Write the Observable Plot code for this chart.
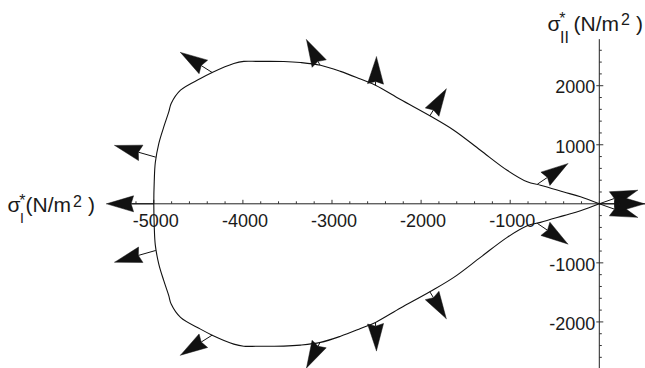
<!DOCTYPE html>
<html><head><meta charset="utf-8">
<script src="https://cdn.jsdelivr.net/npm/d3@7"></script>
<script src="https://cdn.jsdelivr.net/npm/@observablehq/plot@0.6"></script>
<style>body{margin:0;background:#fff}</style>
</head><body><div id="chart"></div>
<script>
// Upper half of the failure curve (sigma_I*, sigma_II*), from origin leftwards; lower half is its mirror
const curveX = [0, -211, -398, -660, -809, -1034, -1334, -1633, -1902, -2231, -2512, -2680, -2904, -3129, -3354, -3541, -3840, -3990, -4102, -4345, -4476, -4700, -4805, -4832, -4888, -4944, -4983, -4995, -5000];
const curveY = [0, 118, 200, 314, 372, 568, 907, 1246, 1490, 1765, 2008, 2112, 2243, 2347, 2393, 2410, 2412, 2412, 2376, 2224, 2122, 1924, 1698, 1556, 1302, 1020, 700, 380, 0];

// Normal arrows on the upper half (mirrored for the lower half): base point and vector
const arrowX  = [-4978, -4345, -3135, -2512, -1902, -697, 0];
const arrowY  = [790, 2224, 2350, 2008, 1490, 330, 0];
const arrowDX = [-460, -355, -151, 11, 184, 343, 429];
const arrowDY = [198, 339, 429, 480, 453, 350, 229];
// Arrows lying on the sigma_I axis
const axisArrowX  = [-5000, 0];
const axisArrowDX = [-530, 507];

const xMajor = [-5000, -4000, -3000, -2000, -1000];
const xMajorLabels = ["-5000", "-4000", "-3000", "-2000", "-1000"];
const yMajor = [2000, 1000, -1000, -2000];
const yMajorLabels = ["2000", "1000", "-1000", "-2000"];
const xMinor = d3.range(-5200, 401, 200).filter(v => !xMajor.includes(v));
const yMinor = d3.range(-2600, 2601, 200).filter(v => !yMajor.includes(v) && v !== 0);

const W = 645, H = 368;
const xDomain = [-6720.5, 518.5];
const yDomain = [-2789, 3443];
const sx = Plot.scale({x: {domain: xDomain, range: [0, W]}});
const sy = Plot.scale({y: {domain: yDomain, range: [H, 0]}});

// closed curve
const curve = [];
curveX.forEach((x, i) => curve.push({x, y: curveY[i]}));
for (let i = curveX.length - 2; i >= 0; i--) curve.push({x: curveX[i], y: -curveY[i]});

// arrows
const arrows = [];
arrowX.forEach((x, i) => {
  arrows.push({bx: x, by: arrowY[i], dx: arrowDX[i], dy: arrowDY[i]});
  arrows.push({bx: x, by: -arrowY[i], dx: arrowDX[i], dy: -arrowDY[i]});
});
axisArrowX.forEach((x, i) => arrows.push({bx: x, by: 0, dx: axisArrowDX[i], dy: 0}));

const HEAD = 27, HW = 8, NOTCH = 2.5;
const heads = [], shafts = [];
arrows.forEach((a, k) => {
  const P = [sx.apply(a.bx), sy.apply(a.by)];
  const T = [sx.apply(a.bx + a.dx), sy.apply(a.by + a.dy)];
  const L = Math.hypot(T[0] - P[0], T[1] - P[1]);
  const u = [(T[0] - P[0]) / L, (T[1] - P[1]) / L];
  const n = [-u[1], u[0]];
  const B = [T[0] - u[0] * HEAD, T[1] - u[1] * HEAD];
  const pts = [
    T,
    [B[0] + n[0] * HW, B[1] + n[1] * HW],
    [B[0] + u[0] * NOTCH, B[1] + u[1] * NOTCH],
    [B[0] - n[0] * HW, B[1] - n[1] * HW],
    T
  ];
  pts.forEach(p => heads.push({id: k, x: sx.invert(p[0]), y: sy.invert(p[1])}));
  shafts.push({x1: a.bx, y1: a.by, x2: sx.invert(B[0] + u[0] * NOTCH), y2: sy.invert(B[1] + u[1] * NOTCH)});
});

// tick geometry (pixel lengths converted through the scales)
const upBy = px => sy.invert(sy.apply(0) - px);
const rightBy = px => sx.invert(sx.apply(0) + px);
const xTicks = [
  ...xMajor.map(v => ({x1: v, x2: v, y1: 0, y2: upBy(4)})),
  ...xMinor.map(v => ({x1: v, x2: v, y1: 0, y2: upBy(2.5)}))
];
const yTicks = [
  ...yMajor.map(v => ({y1: v, y2: v, x1: rightBy(-3), x2: rightBy(4)})),
  ...yMinor.map(v => ({y1: v, y2: v, x1: 0, x2: rightBy(2.5)}))
];

const font = "'Liberation Sans', Arial, Helvetica, sans-serif";
const plot = Plot.plot({
  width: W, height: H, margin: 0,
  style: {fontFamily: font, background: "#fff", overflow: "visible"},
  x: {domain: xDomain, range: [0, W], axis: null},
  y: {domain: yDomain, range: [H, 0], axis: null},
  marks: [
    Plot.link([{x1: -5250, x2: xDomain[1], y1: 0, y2: 0}], {x1: "x1", x2: "x2", y1: "y1", y2: "y2", stroke: "#222", strokeWidth: 1}),
    Plot.link([{x1: 0, x2: 0, y1: -2789, y2: 2789}], {x1: "x1", x2: "x2", y1: "y1", y2: "y2", stroke: "#222", strokeWidth: 1}),
    Plot.link(xTicks, {x1: "x1", x2: "x2", y1: "y1", y2: "y2", stroke: "#333", strokeWidth: 1}),
    Plot.link(yTicks, {x1: "x1", x2: "x2", y1: "y1", y2: "y2", stroke: "#333", strokeWidth: 1}),
    Plot.text(xMajor, {x: d => d, y: 0, text: (d, i) => xMajorLabels[i], dy: 17, dx: 2, fontSize: 18, fill: "#1a1a1a"}),
    Plot.text(yMajor, {x: 0, y: d => d, text: (d, i) => yMajorLabels[i], textAnchor: "end", dx: -4, dy: 2, fontSize: 18, fill: "#1a1a1a"}),
    Plot.line(curve, {x: "x", y: "y", curve: "catmull-rom", stroke: "#111", strokeWidth: 1.1}),
    Plot.link(shafts, {x1: "x1", y1: "y1", x2: "x2", y2: "y2", stroke: "#111", strokeWidth: 1}),
    Plot.line(heads, {x: "x", y: "y", z: "id", curve: "linear", fill: "#111", stroke: "#111", strokeWidth: 0.5})
  ]
});

// axis titles (one text element each, with sub/superscript tspans)
const svg = d3.select(plot);
const g = svg.append("g").attr("font-family", font).attr("fill", "#1a1a1a").attr("text-anchor", "start");
function axisTitle(x0, base, sub, subSize, subDrop, parenOffset) {
  const t = g.append("text").attr("x", x0 - 0.5).attr("y", base).attr("font-size", 21);
  t.append("tspan").text("σ");
  t.append("tspan").attr("x", x0 + 11.2).attr("y", base - 6.5).attr("font-size", 16).text("*");
  t.append("tspan").attr("x", x0 + 12).attr("y", base + subDrop).attr("font-size", subSize).text(sub);
  t.append("tspan").attr("x", x0 + parenOffset).attr("y", base).text("(N/m");
  t.append("tspan").attr("dx", 2).attr("y", base - 5.5).attr("font-size", 16).text("2");
  t.append("tspan").attr("dx", 6).attr("y", base).text(")");
}
axisTitle(8, 212, "I", 14, 11, 17.5);
axisTitle(548, 30.5, "II", 16, 12, 25.5);

document.getElementById("chart").append(plot);
</script>
</body></html>
